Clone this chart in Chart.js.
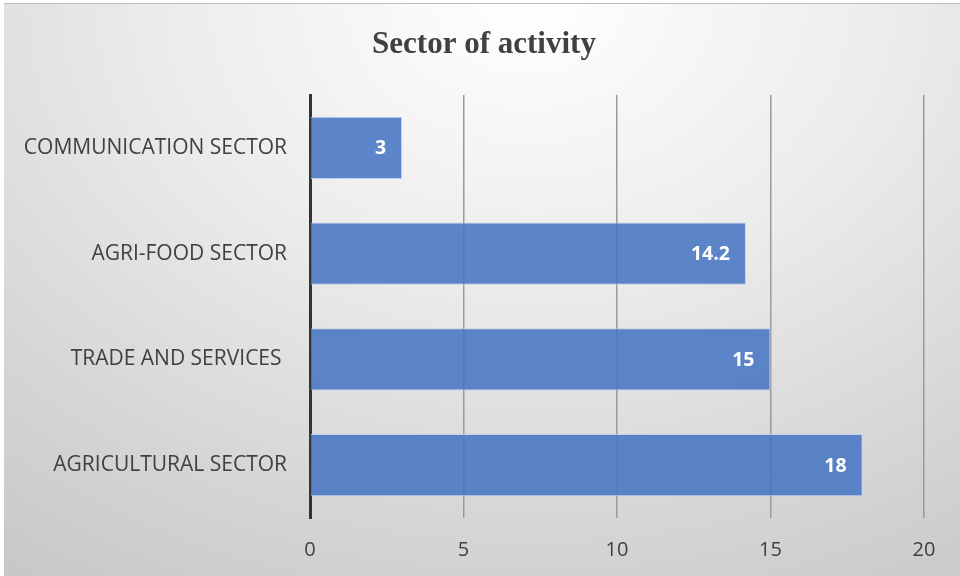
<!DOCTYPE html>
<html>
<head>
<meta charset="utf-8">
<script src="https://cdn.jsdelivr.net/npm/chart.js@4"></script>
<style>
  html, body { margin: 0; padding: 0; background: #fff; }
  #wrap {
    position: absolute; left: 4px; top: 3px; width: 956px; height: 572px;
    border-top: 1px solid #bdbdbd;
    background: radial-gradient(ellipse 95% 120% at 55% 0%, #ffffff 0%, #ececec 40%, #d6d6d6 75%, #c8c8c8 100%);
  }
  canvas { display: block; }
</style>
</head>
<body>
<div id="wrap"><canvas id="chart" width="956" height="572"></canvas></div>
<script>
const chartTitle = 'Sector of activity';
const sectors = ['COMMUNICATION SECTOR', 'AGRI-FOOD SECTOR', 'TRADE AND SERVICES ', 'AGRICULTURAL SECTOR'];
const shares = [3, 14.2, 15, 18];
const xTicks = [0, 5, 10, 15, 20];

// white value labels just inside the end of each bar, plus the heading
const barValues = {
  id: 'barValues',
  afterDatasetsDraw(chart) {
    const { ctx } = chart;
    const meta = chart.getDatasetMeta(0);
    ctx.save();
    ctx.font = 'bold 19.5px "Open Sans", sans-serif';
    ctx.fillStyle = '#ffffff';
    ctx.textAlign = 'right';
    ctx.textBaseline = 'middle';
    meta.data.forEach((bar, i) => {
      ctx.fillText(String(shares[i]), bar.x - 16, bar.y + 1);
    });

    ctx.font = 'bold 31px "Liberation Serif", serif';
    ctx.fillStyle = '#404040';
    ctx.textAlign = 'center';
    ctx.fillText(chartTitle, chart.width / 2 + 2, 41);
    ctx.restore();
  }
};

new Chart(document.getElementById('chart'), {
  type: 'bar',
  data: {
    labels: sectors,
    datasets: [{
      data: shares,
      backgroundColor: 'rgba(72,118,196,0.88)',
      borderColor: 'rgba(190,205,235,0.9)',
      borderWidth: 1,
      barPercentage: 0.59,
      categoryPercentage: 1
    }]
  },
  options: {
    indexAxis: 'y',
    responsive: false,
    animation: false,
    layout: { padding: { left: 0, right: 36, top: 91, bottom: 0 } },
    plugins: {
      legend: { display: false },
      tooltip: { enabled: false },
      title: { display: false }
    },
    scales: {
      x: {
        min: 0, max: 20,
        afterBuildTicks(axis) { axis.ticks = xTicks.map(v => ({ value: v })); },
        afterFit(axis) { axis.height = 58; },
        grid: { color: '#9a9a9a', lineWidth: 1.5, drawTicks: false },
        border: { display: false },
        ticks: {
          color: '#404040',
          padding: 20,
          font: { family: '"Open Sans", sans-serif', size: 20 }
        }
      },
      y: {
        afterFit(axis) { axis.width = 306; },
        grid: { display: false, drawTicks: false },
        border: { display: true, color: '#333333', width: 3 },
        ticks: {
          color: '#404040',
          padding: 23,
          font: { family: '"Open Sans", sans-serif', size: 21 }
        }
      }
    }
  },
  plugins: [barValues]
});
</script>
</body>
</html>
